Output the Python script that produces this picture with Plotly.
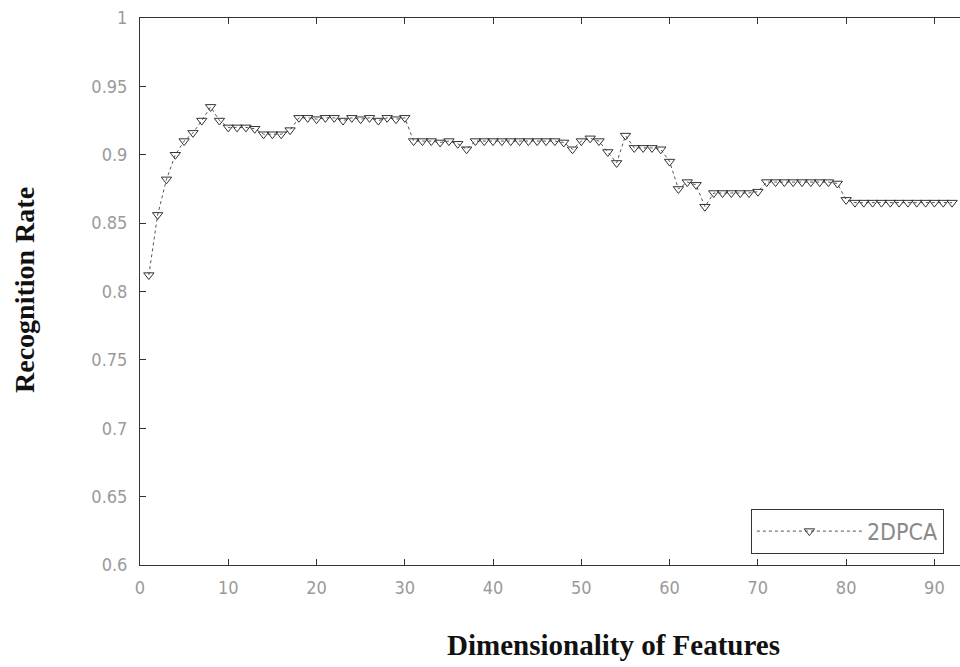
import plotly.graph_objects as go

dims = list(range(1, 93))
rate_2dpca = [
    0.812, 0.856, 0.882, 0.900, 0.910, 0.916, 0.925, 0.935, 0.925, 0.920,
    0.920, 0.920, 0.919, 0.915, 0.915, 0.915, 0.918, 0.927, 0.927, 0.926,
    0.927, 0.927, 0.925, 0.927, 0.926, 0.927, 0.925, 0.927, 0.926, 0.927,
    0.910, 0.910, 0.910, 0.909, 0.910, 0.908, 0.904, 0.910, 0.910, 0.910,
    0.910, 0.910, 0.910, 0.910, 0.910, 0.910, 0.910, 0.909, 0.904, 0.910,
    0.912, 0.910, 0.902, 0.894, 0.914, 0.905, 0.905, 0.905, 0.904, 0.895,
    0.875, 0.880, 0.878, 0.862, 0.872, 0.872, 0.872, 0.872, 0.872, 0.873,
    0.880, 0.880, 0.880, 0.880, 0.880, 0.880, 0.880, 0.880, 0.879, 0.867,
    0.865, 0.865, 0.865, 0.865, 0.865, 0.865, 0.865, 0.865, 0.865, 0.865,
    0.865, 0.865,
]
x_ticks = [0, 10, 20, 30, 40, 50, 60, 70, 80, 90]
y_ticks = [0.6, 0.65, 0.7, 0.75, 0.8, 0.85, 0.9, 0.95, 1.0]
y_ticklabels = ["0.6", "0.65", "0.7", "0.75", "0.8", "0.85", "0.9", "0.95", "1"]

fig = go.Figure()
fig.add_trace(go.Scatter(
    x=dims, y=rate_2dpca, mode="lines+markers", name="2DPCA",
    line=dict(color="#555555", width=1, dash="dot"),
    marker=dict(symbol="triangle-down-open", size=9, color="#333333",
                line=dict(width=1)),
))

tick_font = dict(family="DejaVu Sans Condensed, DejaVu Sans", size=18,
                 color="#9a9a9a")
title_font = dict(family="Liberation Serif", size=28, color="#111111")

fig.update_layout(
    width=960, height=667,
    margin=dict(l=140, r=0, t=18, b=102),
    plot_bgcolor="white", paper_bgcolor="white",
    showlegend=True,
    legend=dict(x=0.745, y=0.103, xanchor="left", yanchor="top",
                bordercolor="#333333", borderwidth=1, bgcolor="white",
                font=dict(family="DejaVu Sans Condensed, DejaVu Sans",
                          size=23, color="#8a8a8a"),
                itemwidth=105),
    xaxis=dict(range=[0, 92.9], tickvals=x_ticks, ticks="inside", ticklen=6,
               tickcolor="#333333", showline=True, linecolor="#333333",
               linewidth=1, mirror="ticks", showgrid=False, zeroline=False,
               tickfont=tick_font, ticklabelstandoff=6),
    yaxis=dict(range=[0.6, 1.0], tickvals=y_ticks, ticktext=y_ticklabels,
               ticks="inside", ticklen=6, tickcolor="#333333", showline=True,
               linecolor="#333333", linewidth=1, showgrid=False,
               zeroline=False, tickfont=tick_font, ticklabelstandoff=8),
    annotations=[
        dict(text="<b>Dimensionality of Features</b>", xref="paper",
             yref="paper", x=(613 - 140) / 820, y=-(645 - 565) / 547,
             xanchor="center", yanchor="middle", showarrow=False,
             font=dict(family="Liberation Serif", size=29, color="#111111")),
        dict(text="<b>Recognition Rate</b>", xref="paper", yref="paper",
             x=-(140 - 24) / 820, y=(565 - 290) / 547, textangle=-90,
             xanchor="center", yanchor="middle", showarrow=False,
             font=title_font),
    ],
)

fig.write_html("out.html")
